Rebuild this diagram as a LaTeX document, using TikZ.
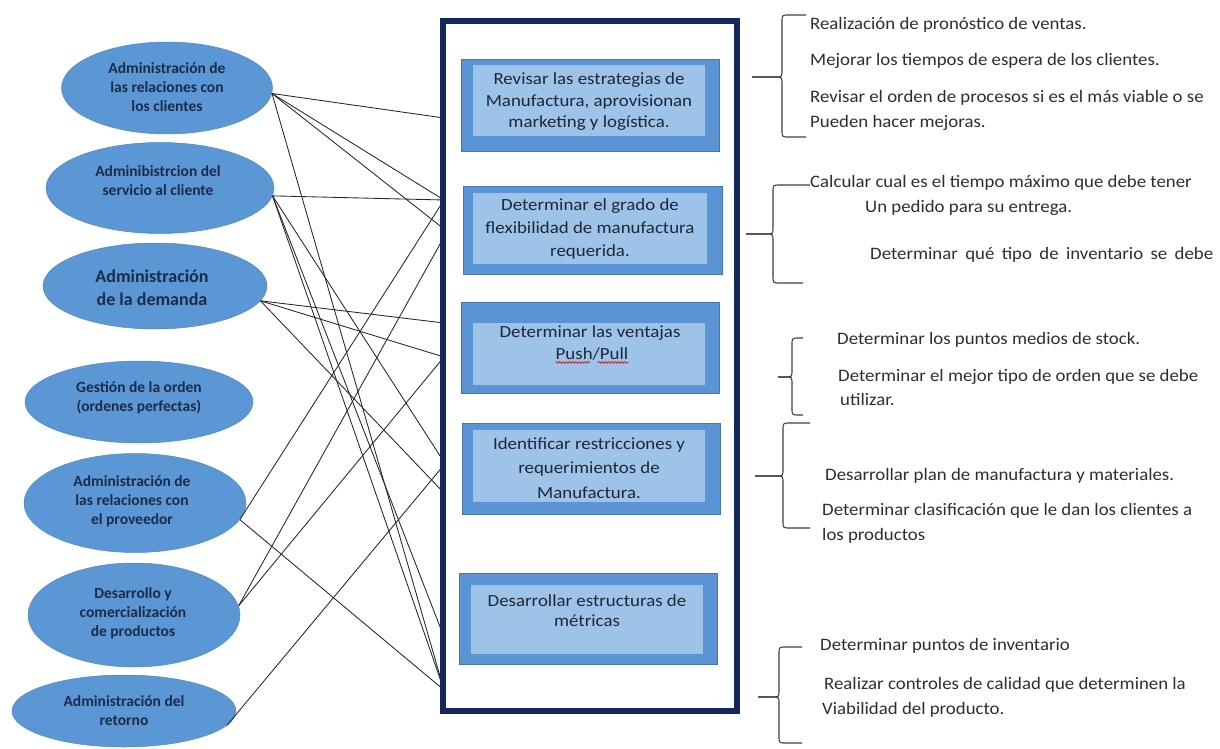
\documentclass[tikz,border=0pt]{standalone}
\usepackage{fontspec}
\setmainfont{Carlito}
\newfontfamily\sidefont[FakeStretch=1.075]{Carlito}
\newfontfamily\boxfont[FakeStretch=1.11]{Carlito}
\usetikzlibrary{shapes.geometric,decorations.pathmorphing,calc}

\definecolor{ellfill}{HTML}{5B97D5}
\definecolor{boxout}{HTML}{5A94D4}
\definecolor{boxin}{HTML}{9DC3E8}
\definecolor{navy}{HTML}{14285C}
\definecolor{elltext}{HTML}{1C2B4A}
\definecolor{boxtext}{HTML}{1F2733}
\definecolor{sidetext}{HTML}{2E2E2E}

% left curly brace: tip x, spine x, top end x, bottom end x, top y, middle y, bottom y
\newcommand{\sidebrace}[7]{%
  \draw[bracestyle] (#3,#5) -- (#2+7,#5) .. controls (#2,#5) .. (#2,#5+7)
    -- (#2,#6-7) .. controls (#2,#6) .. (#2-7,#6) -- (#1,#6);
  \draw[bracestyle] (#1,#6) -- (#2-7,#6) .. controls (#2,#6) .. (#2,#6+7)
    -- (#2,#7-7) .. controls (#2,#7) .. (#2+7,#7) -- (#4,#7);
}

\begin{document}
\begin{tikzpicture}[x=1pt,y=-1pt,
  proc/.style={ellipse, fill=ellfill, draw=ellfill!90!black, line width=0.5pt, inner sep=0pt},
  elltxt/.style={align=center, text=elltext, font=\fontsize{15.5}{19}\selectfont\bfseries, inner sep=0pt},
  outerbox/.style={rectangle, fill=boxout, draw=boxout!80!black, line width=0.4pt, inner sep=0pt},
  innerbox/.style={rectangle, fill=boxin, inner sep=0pt},
  boxtxt/.style={align=center, text=boxtext, inner sep=0pt},
  side/.style={anchor=west, text=sidetext, inner sep=0pt, font=\fontsize{17.5}{21}\sidefont,
    text height=0.72em, text depth=0.22em},
  link/.style={draw=black!85, line width=0.85pt},
  bracestyle/.style={draw=black!75, line width=1.1pt},
  wave/.style={draw=red!85!black, line width=0.6pt, decorate,
    decoration={snake, amplitude=0.9pt, segment length=3.2pt}}]

\useasboundingbox (0,0) rectangle (1220,749);
\fill[white] (0,0) rectangle (1220,749);

% ---- processes (left column)
\node[proc, minimum width=211, minimum height=92] (e1) at (167,88) {};
\node[proc, minimum width=228, minimum height=91] (e2) at (160,188) {};
\node[proc, minimum width=224, minimum height=86] (e3) at (155,286) {};
\node[proc, minimum width=228, minimum height=82] (e4) at (139,402) {};
\node[proc, minimum width=222, minimum height=99] (e5) at (135,503) {};
\node[proc, minimum width=212, minimum height=104] (e6) at (134,615) {};
\node[proc, minimum width=224, minimum height=72] (e7) at (124,711) {};

\node[elltxt] (e1t) at (167,87) {Administración de\\las relaciones con\\los clientes};
\node[elltxt] (e2t) at (158,181) {Adminibistrcion del\\servicio al cliente};
\node[elltxt, font=\fontsize{18}{23}\selectfont\bfseries] (e3t) at (152,288) {Administración\\de la demanda};
\node[elltxt] (e4t) at (139,398) {Gestión de la orden\\(ordenes perfectas)};
\node[elltxt] (e5t) at (132,501) {Administración de\\las relaciones con\\el proveedor};
\node[elltxt] (e6t) at (133,613) {Desarrollo y\\comercialización\\de productos};
\node[elltxt] (e7t) at (124,711) {Administración del\\retorno};

% ---- frame holding the activities
\node[draw=navy, line width=3.6pt, fill=white, rectangle, inner sep=0pt,
      minimum width=292, minimum height=688] (frame) at (590,366) {};

% connection points on the frame's left side
\foreach \y in {118,200,229,237,323,357,462,465,493,637,690}
  \coordinate (t\y) at (444,\y);

% ---- connectors
\foreach \t in {118,200,229,690} \draw[link] (e1.-3) -- (t\t);
\foreach \t in {200,462,637,690} \draw[link] (e2.-4) -- (t\t);
\foreach \t in {323,357,493}     \draw[link] (e3.-8) -- (t\t);
\foreach \t in {200,690}         \draw[link] (e5.-9) -- (t\t);
\foreach \t in {237,357}         \draw[link] (e6.5)  -- (t\t);
\draw[link] (e7.-8) -- (t465);

% redraw the frame border over the line ends
\draw[navy, line width=3.6pt] (frame.north west) rectangle (frame.south east);

% ---- activities
\node[outerbox, minimum width=258, minimum height=92] (b1) at (590,105) {};
\node[innerbox, minimum width=232, minimum height=71] (b1i) at (589,100.5) {};
\node[boxtxt, font=\fontsize{17}{21.5}\boxfont] (b1t) at (589,102) {Revisar las estrategias de\\Manufactura, aprovisionan\\marketing y logística.};

\node[outerbox, minimum width=259, minimum height=88] (b2) at (592.5,230) {};
\node[innerbox, minimum width=234, minimum height=71] (b2i) at (590,228.5) {};
\node[boxtxt, font=\fontsize{17}{23}\boxfont] (b2t) at (590,229) {Determinar el grado de\\flexibilidad de manufactura\\requerida.};

\node[outerbox, minimum width=258, minimum height=91] (b3) at (590,347.5) {};
\node[innerbox, minimum width=232, minimum height=62] (b3i) at (589,354) {};
\node[boxtxt, font=\fontsize{17}{20}\boxfont] (b3a) at (590,333) {Determinar las ventajas};
\node[boxtxt, font=\fontsize{17}{20}\boxfont] (b3b) at (592,354) {Push/Pull};
\draw[wave] ($(b3b.south west)+(0,2)$) -- ($(b3b.south west)!0.47!(b3b.south east)+(0,2)$);
\draw[wave] ($(b3b.south west)!0.58!(b3b.south east)+(0,2)$) -- ($(b3b.south east)+(0,2)$);

\node[outerbox, minimum width=258, minimum height=91] (b4) at (591,468.5) {};
\node[innerbox, minimum width=232, minimum height=72] (b4i) at (589,466) {};
\node[boxtxt, font=\fontsize{17}{24.5}\boxfont] (b4t) at (589,468) {Identificar restricciones y\\requerimientos de\\Manufactura.};

\node[outerbox, minimum width=258, minimum height=91] (b5) at (588,618.5) {};
\node[innerbox, minimum width=232, minimum height=69] (b5i) at (587,619.5) {};
\node[boxtxt, font=\fontsize{17}{20}\boxfont] (b5t) at (587,611) {Desarrollar estructuras de\\métricas};

% ---- braces
\sidebrace{752}{782}{806}{806}{15}{77}{137}
\sidebrace{746}{773}{810}{803}{185}{234}{283}
\sidebrace{778}{792}{803}{803}{338}{377}{415}
\sidebrace{755}{783}{810}{810}{423}{476}{528}
\sidebrace{758}{779}{802}{802}{647}{697}{743}

% ---- notes
\node[side] (r1)  at (810,27)  {Realización de pronóstico de ventas.};
\node[side] (r2)  at (810,63)  {Mejorar los tiempos de espera de los clientes.};
\node[side] (r3)  at (810,100) {Revisar el orden de procesos si es el más viable o se};
\node[side] (r4)  at (810,125) {Pueden hacer mejoras.};
\node[side] (r5)  at (810,185) {Calcular cual es el tiempo máximo que debe tener};
\node[side] (r6)  at (865,210) {Un pedido para su entrega.};
\node[side] (r7)  at (870,257) {\makebox[343pt][s]{Determinar qué tipo de inventario se debe}};
\node[side] (r8)  at (837,342) {Determinar los puntos medios de stock.};
\node[side] (r9)  at (838,379) {Determinar el mejor tipo de orden que se debe};
\node[side] (r10) at (840,403) {utilizar.};
\node[side] (r11) at (825,478) {Desarrollar plan de manufactura y materiales.};
\node[side] (r12) at (822,513) {Determinar clasificación que le dan los clientes a};
\node[side] (r13) at (822,538) {los productos};
\node[side] (r14) at (820,648) {Determinar puntos de inventario};
\node[side] (r15) at (824,687) {Realizar controles de calidad que determinen la};
\node[side] (r16) at (822,712) {Viabilidad del producto.};
\end{tikzpicture}
\end{document}
